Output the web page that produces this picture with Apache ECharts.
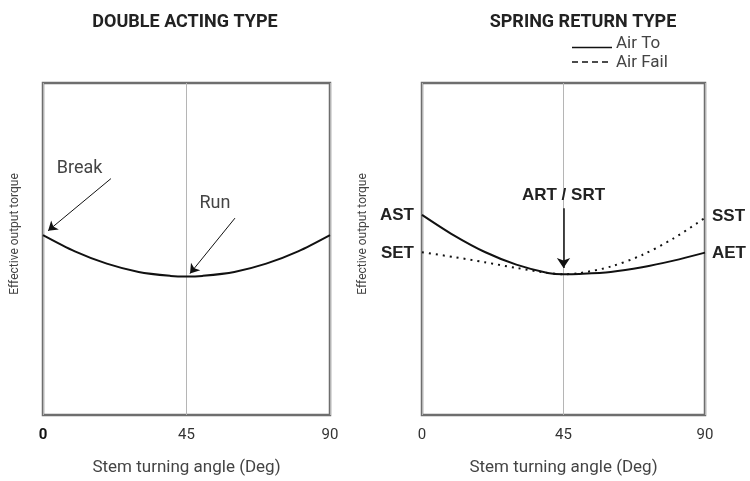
<!DOCTYPE html>
<html>
<head>
<meta charset="utf-8">
<script src="https://cdn.jsdelivr.net/npm/echarts@6/dist/echarts.min.js"></script>
<style>html,body{margin:0;padding:0;background:#fff}#c{width:750px;height:481px}</style>
</head>
<body>
<div id="c"></div>
<script>
// ---- data ----
const angles = [0, 10, 20, 30, 40, 45, 50, 60, 70, 80, 90];
const xTicks = [0, 45, 90];
const doubleActing = [54.2, 49.3, 45.6, 43.1, 41.9, 41.7, 41.9, 43.1, 45.6, 49.3, 54.2];
const airTo = [60.3, 54.2, 49.1, 45.3, 42.8, 42.4, 42.5, 43.1, 44.5, 46.5, 48.9];
const airFail = [49.0, 47.6, 46.0, 44.3, 42.8, 42.4, 42.7, 44.7, 48.2, 53.2, 59.4];
const titles = ['DOUBLE ACTING TYPE', 'SPRING RETURN TYPE'];
const legendNames = ['Air To', 'Air Fail'];
const xName = 'Stem turning angle (Deg)';
const yName = 'Effective output torque';

const pairs = a => angles.map((x, i) => [x, a[i]]);

const FONT = 'Roboto';
const BOLD = 'Liberation Sans';
const arrowStyle = { color: '#111', width: 1, type: 'solid' };

function xAxisCfg(idx, boldZero) {
  return {
    gridIndex: idx, type: 'value', min: 0, max: 90, interval: 45,
    axisLine: { show: false }, axisTick: { show: false },
    splitLine: { show: true, lineStyle: { color: '#b5b5b5', width: 1 } },
    axisLabel: {
      margin: 13, fontFamily: FONT, fontSize: 15, color: '#333',
      formatter: v => (boldZero && v === 0) ? '{b|0}' : '{n|' + v + '}',
      rich: { b: { fontWeight: 'bold', fontFamily: FONT, fontSize: 15, color: '#111' },
              n: { fontFamily: FONT, fontSize: 15, color: '#333' } }
    },
    name: xName, nameLocation: 'middle', nameGap: 44,
    nameTextStyle: { fontFamily: FONT, fontSize: 17, color: '#444' }
  };
}
function yAxisCfg(idx, gap) {
  return {
    gridIndex: idx, type: 'value', min: 0, max: 100,
    axisLine: { show: false }, axisTick: { show: false }, axisLabel: { show: false },
    splitLine: { show: false },
    name: yName, nameLocation: 'middle', nameGap: gap,
    nameTextStyle: { fontFamily: FONT, fontSize: 12, color: '#444', padding: [0, 0, 0, 30] }
  };
}
const lblStyle = { fontFamily: FONT, fontSize: 18, color: '#444' };
const boldLbl = { fontFamily: BOLD, fontSize: 17, fontWeight: 'bold', color: '#222' };

const option = {
  animation: false,
  title: [
    { text: titles[0], left: 180, top: 8, textAlign: 'center',
      textStyle: { fontFamily: FONT, fontSize: 18, fontWeight: 'bold', color: '#222' } },
    { text: titles[1], left: 578, top: 8, textAlign: 'center',
      textStyle: { fontFamily: FONT, fontSize: 18, fontWeight: 'bold', color: '#222' } }
  ],
  grid: [
    { left: 43, right: 420, top: 83, bottom: 61, show: true, borderColor: '#6e6e6e', borderWidth: 2.5 },
    { left: 422, right: 45, top: 83, bottom: 61, show: true, borderColor: '#6e6e6e', borderWidth: 2.5 }
  ],
  xAxis: [xAxisCfg(0, true), xAxisCfg(1, false)],
  yAxis: [yAxisCfg(0, 22), yAxisCfg(1, 53)],
  graphic: [
    { type: 'line', shape: { x1: 572, y1: 47.5, x2: 612, y2: 47.5 }, style: { stroke: '#111', lineWidth: 1.5 } },
    { type: 'line', shape: { x1: 572, y1: 62, x2: 612, y2: 62 }, style: { stroke: '#111', lineWidth: 1.5, lineDash: [6, 4] } },
    { type: 'text', left: 616, top: 35, style: { text: legendNames[0], font: '17px Roboto', fill: '#444' } },
    { type: 'text', left: 616, top: 54, style: { text: legendNames[1], font: '17px Roboto', fill: '#444' } }
  ],
  series: [
    {
      type: 'line', xAxisIndex: 0, yAxisIndex: 0, data: pairs(doubleActing), smooth: 0.3,
      symbol: 'none', lineStyle: { color: '#111', width: 2 },
      markLine: {
        silent: true, symbol: ['none', 'arrow'], symbolSize: 9, label: { show: false },
        lineStyle: arrowStyle,
        data: [
          [{ coord: [21.3, 71.2] }, { coord: [1.6, 55.5] }],
          [{ coord: [60.2, 59.3] }, { coord: [46.1, 42.6] }]
        ]
      },
      markPoint: {
        silent: true, symbol: 'circle', symbolSize: 0,
        label: Object.assign({ show: true, formatter: '{b}' }, lblStyle),
        data: [
          { name: 'Break', coord: [11.5, 74.1] },
          { name: 'Run', coord: [53.9, 63.7] }
        ]
      }
    },
    {
      name: legendNames[0], type: 'line', xAxisIndex: 1, yAxisIndex: 1, data: pairs(airTo), smooth: 0.3,
      symbol: 'none', lineStyle: { color: '#111', width: 2 },
      markLine: {
        silent: true, symbol: ['none', 'arrow'], symbolSize: 10, label: { show: false },
        lineStyle: { color: '#111', width: 1.5, type: 'solid' },
        data: [[{ coord: [45, 62.3] }, { coord: [45, 44.3] }]]
      },
      markPoint: {
        silent: true, symbol: 'circle', symbolSize: 0,
        label: Object.assign({ show: true, formatter: '{b}' }, boldLbl),
        data: [
          { name: 'ART / SRT', coord: [45, 66.1] },
          { name: 'AST', coord: [0, 60.2], label: { position: 'left', distance: 8 } },
          { name: 'SET', coord: [0, 48.6], label: { position: 'left', distance: 8 } },
          { name: 'SST', coord: [90, 59.9], label: { position: 'right', distance: 7 } },
          { name: 'AET', coord: [90, 48.6], label: { position: 'right', distance: 7 } }
        ]
      }
    },
    {
      name: legendNames[1], type: 'line', xAxisIndex: 1, yAxisIndex: 1, data: pairs(airFail), smooth: 0.3,
      symbol: 'none', lineStyle: { color: '#111', width: 2, type: [2, 5] }
    }
  ]
};
const chart = echarts.init(document.getElementById('c'), null, { renderer: 'canvas' });
chart.setOption(option);
</script>
</body>
</html>
